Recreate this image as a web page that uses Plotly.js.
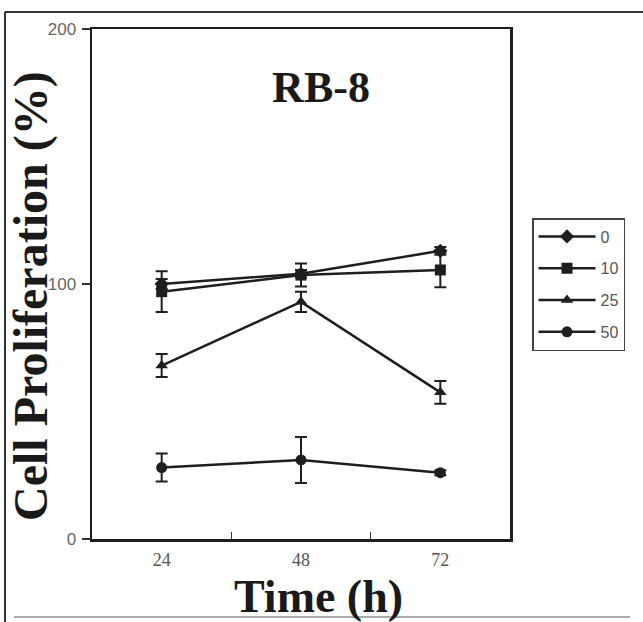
<!DOCTYPE html>
<html>
<head>
<meta charset="utf-8">
<script src="https://cdn.plot.ly/plotly-3.0.1.min.js"></script>
<style>
html,body{margin:0;padding:0;background:#fff;}
#chart{width:643px;height:622px;}
</style>
</head>
<body>
<div id="chart"></div>
<script>
// Time points (h)
const times = ['24', '48', '72'];
// Series names (concentrations)
const seriesNames = ['0', '10', '25', '50'];
// Mean cell proliferation (%)
const conc0  = [100, 104, 113];
const conc10 = [97, 103.5, 105.5];
const conc25 = [68, 93, 57.5];
const conc50 = [28, 31, 26];
// Error bars (±)
const err0  = [2, 1.5, 1.5];
const err10 = [8, 4.5, 6.8];
const err25 = [4.5, 4, 4.5];
const err50 = [5.5, 9, 1];
// Axis ticks
const yTicks = [0, 100, 200];

const symbols = ['diamond', 'square', 'triangle-up', 'circle'];
const values = [conc0, conc10, conc25, conc50];
const errors = [err0, err10, err25, err50];
const ink = '#1e1e1e';

const traces = values.map((v, i) => ({
  type: 'scatter',
  mode: 'lines+markers',
  name: seriesNames[i],
  legendgroup: 'g' + i,
  x: times,
  y: v,
  line: {color: ink, width: 2.5},
  marker: {symbol: symbols[i], size: 11, color: ink},
  error_y: {type: 'data', array: errors[i], visible: true, color: ink, thickness: 2, width: 6}
}));

const px = v => (v - 92) / 418;
const py = v => (539 - v) / 510;

const layout = {
  width: 643, height: 622,
  margin: {l: 92, r: 133, t: 29, b: 83},
  paper_bgcolor: '#fff', plot_bgcolor: '#fff',
  showlegend: true,
  title: {
    text: '<b>RB-8</b>',
    x: px(321), xref: 'paper', xanchor: 'center',
    y: py(87), yref: 'paper', yanchor: 'middle',
    font: {family: 'Liberation Serif, serif', size: 44, color: '#1a1a1a'}
  },
  xaxis: {
    type: 'category',
    categoryorder: 'array', categoryarray: times,
    range: [-0.5, 2.5],
    tickson: 'boundaries',
    ticks: 'inside', ticklen: 7, tickwidth: 1.5, tickcolor: '#333',
    showline: true, linecolor: ink, linewidth: 2.5, mirror: true,
    showgrid: false, zeroline: false,
    tickfont: {family: 'Liberation Serif, serif', size: 18, color: '#555'},
    ticklabelstandoff: 3,
    title: {text: ''}
  },
  yaxis: {
    range: [0, 200],
    tickmode: 'array', tickvals: yTicks, ticktext: yTicks.map(String),
    ticks: 'outside', ticklen: 8, tickwidth: 1.5, tickcolor: '#333',
    showline: true, linecolor: ink, linewidth: 2.5, mirror: true,
    showgrid: false, zeroline: false,
    tickfont: {family: 'Liberation Sans, Arial, sans-serif', size: 17, color: '#666'},
    ticklabelstandoff: 2,
    title: {text: ''}
  },
  legend: {
    x: px(532), y: py(218), xanchor: 'left', yanchor: 'top',
    bordercolor: '#444', borderwidth: 1.5, bgcolor: '#fff',
    font: {family: 'Liberation Sans, Arial, sans-serif', size: 16, color: '#555'},
    traceorder: 'grouped', tracegroupgap: 8,
    itemwidth: 57
  },
  annotations: [
    {
      text: '<b>Cell Proliferation (%)</b>',
      xref: 'paper', yref: 'paper', x: px(31), y: py(296),
      xanchor: 'center', yanchor: 'middle', textangle: -90, showarrow: false,
      font: {family: 'Liberation Serif, serif', size: 48, color: '#1a1a1a'}
    },
    {
      text: '<b>Time (h)</b>',
      xref: 'paper', yref: 'paper', x: px(318), y: py(596),
      xanchor: 'center', yanchor: 'middle', showarrow: false,
      font: {family: 'Liberation Serif, serif', size: 46, color: '#1a1a1a'}
    }
  ],
  shapes: [
    {type: 'line', xref: 'paper', yref: 'paper', x0: px(5), x1: px(5), y0: py(622), y1: py(12), line: {color: '#333', width: 2}},
    {type: 'line', xref: 'paper', yref: 'paper', x0: px(5), x1: px(643), y0: py(12), y1: py(12), line: {color: '#333', width: 2}},
    {type: 'line', xref: 'paper', yref: 'paper', x0: px(14), x1: px(630), y0: py(617), y1: py(617), line: {color: '#aaa', width: 2}}
  ]
};

Plotly.newPlot('chart', traces, layout, {displayModeBar: false, staticPlot: true});
</script>
</body>
</html>
